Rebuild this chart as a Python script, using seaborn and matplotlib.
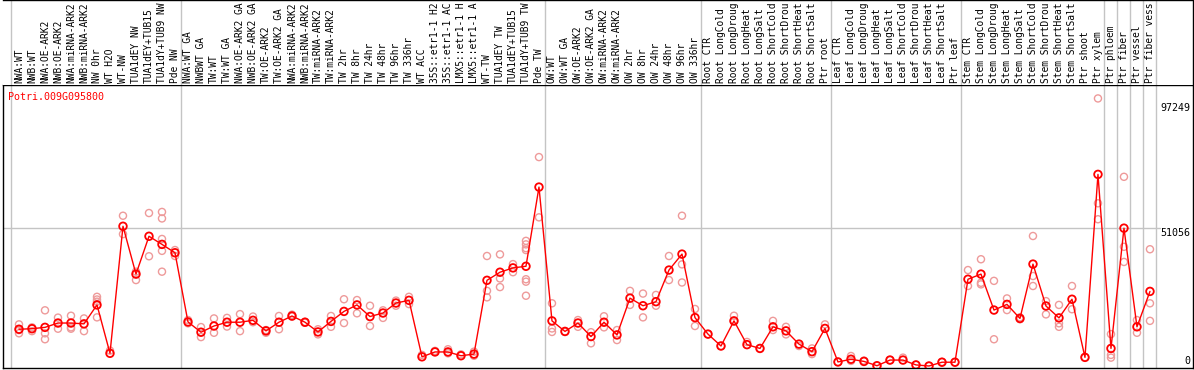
import numpy as np
import pandas as pd
import matplotlib
matplotlib.use("Agg")
import matplotlib.pyplot as plt
import matplotlib.transforms as mtrans
import seaborn as sns

title = "Potri.009G095800"

# labels as displayed (the source truncates them to 14 characters)
categories = [
    "NWA:WT", "NWB:WT", "NWA:OE-ARK2", "NWB:OE-ARK2", "NWA:miRNA-ARK2", "NWB:miRNA-ARK2",
    "NW 0hr", "WT H2O", "WT-NW", "TUA1dEY NW", "TUA1dEY+TUB15", "TUA1dY+TUB9 NW", "Pde NW",
    "NWA:WT GA", "NWBWT GA", "TW:WT", "TW:WT GA", "NWA:OE-ARK2 GA", "NWB:OE-ARK2 GA",
    "TW:OE-ARK2", "TW:OE-ARK2 GA", "NWA:miRNA-ARK2", "NWB:miRNA-ARK2", "TW:miRNA-ARK2",
    "TW:miRNA-ARK2", "TW 2hr", "TW 8hr", "TW 24hr", "TW 48hr", "TW 96hr", "TW 336hr",
    "WT ACC", "35S::etr1-1 H2", "35S::etr1-1 AC", "LMX5::etr1-1 H", "LMX5::etr1-1 A",
    "WT-TW", "TUA1dEY TW", "TUA1dEY+TUB15", "TUA1dY+TUB9 TW", "Pde TW",
    "OW:WT", "OW:WT GA", "OW:OE-ARK2", "OW:OE-ARK2 GA", "OW:miRNA-ARK2", "OW:miRNA-ARK2",
    "OW 2hr", "OW 8hr", "OW 24hr", "OW 48hr", "OW 96hr", "OW 336hr",
    "Root CTR", "Root LongCold", "Root LongDroug", "Root LongHeat", "Root LongSalt",
    "Root ShortCold", "Root ShortDrou", "Root ShortHeat", "Root ShortSalt", "Ptr root",
    "Leaf CTR", "Leaf LongCold", "Leaf LongDroug", "Leaf LongHeat", "Leaf LongSalt",
    "Leaf ShortCold", "Leaf ShortDrou", "Leaf ShortHeat", "Leaf ShortSalt", "Ptr leaf",
    "Stem CTR", "Stem LongCold", "Stem LongDroug", "Stem LongHeat", "Stem LongSalt",
    "Stem ShortCold", "Stem ShortDrou", "Stem ShortHeat", "Stem ShortSalt", "Ptr shoot",
    "Ptr xylem", "Ptr phloem", "Ptr fiber", "Ptr vessel", "Ptr fiber vess",
]

means = [
    13600, 13800, 14300, 15900, 15900, 15600, 22600, 4700, 51700, 34000, 48000, 45000, 41900,
    16300, 12500, 14800, 16200, 16200, 16900, 13000, 16200, 18500, 16200, 12600, 16500,
    20200, 22600, 18300, 19600, 23300, 24300,
    3400, 5200, 5200, 3800, 4400, 31700, 34700, 36300, 36900, 66200,
    16700, 12800, 15900, 10900, 16200, 11500, 25100, 22300, 23800, 35500, 41400, 17900,
    11800, 7400, 16700, 7900, 6500, 14500, 13000, 8100, 5300, 13900,
    1500, 2500, 1700, 100, 2200, 2200, 400, 0, 1400, 1400,
    32100, 34000, 20700, 22800, 17600, 37700, 22200, 17800, 24700, 3200,
    70900, 6500, 51000, 14500, 27600,
]

replicates = [
    [15400, 12100, 13300], [14300, 12900], [20600, 12100, 9900], [17900, 13800],
    [18600, 14300, 13800], [17600, 12900], [25600, 24600, 23800, 18000], [5700],
    [55600, 48800], [31800, 34900], [56600, 40600], [57000, 54600, 47000, 42600, 34900],
    [42900, 40700],
    [17000, 15800], [14400, 10700], [17600, 12300], [17800, 14600], [19200, 12900],
    [18300, 16200], [13300, 12300], [18500, 13600], [19000, 18300], [16300, 16000],
    [13600, 11700], [18500, 14500], [24700, 15900], [24400, 19500], [22300, 14800],
    [20600, 17800], [24200, 22300], [25600, 22900],
    [4100], [5600], [6200, 4700], [4300], [5300, 3800],
    [40700, 27800, 25400], [41300, 32400, 29200], [37700, 34700],
    [46300, 45000, 43600, 42900, 32100, 31200, 26000], [77300, 55000],
    [23200, 13900, 12600], [12600], [17000, 14500], [12500, 8400], [18400, 14300],
    [13300, 9600], [27800, 22600], [26800, 18000], [26300, 22300], [40700, 31800],
    [55600, 37600, 30900], [21100, 14800],
    [11800], [7400], [18600, 16400], [8900], [6500], [16700, 13300], [14500, 11700],
    [7400], [6500, 4400], [15400],
    [1500], [3700, 1900], [2000], [100], [2200], [3100], [400], [0], [1500], [1400],
    [35500, 29600], [39500, 30800, 30200], [31500, 9900], [25000, 20700], [18000, 17300],
    [48100, 33300, 29600], [24000, 19100], [22600, 15800, 14500], [29600, 21000], [3200],
    [99000, 60200, 54300], [11800, 4100, 3100], [70000, 44100, 38500], [17000, 12300],
    [43200, 23200, 16700],
]

y_labels = [97249, 51056, 0]
grid_value = 51056
group_edges = [-0.65, 12.5, 40.5, 52.5, 62.5, 72.5, 83.5, 84.5, 85.5, 86.5, 87.5]

sns.set_theme(style="white")
plt.rcParams["font.family"] = ["DejaVu Sans Mono", "DejaVu Sans"]

W, H = 1194, 370
fig = plt.figure(figsize=(W / 100, H / 100), dpi=100)
ax = fig.add_axes([3 / W, 2 / H, 1190 / W, 283 / H])
lab = fig.add_axes([3 / W, 285 / H, 1190 / W, 85 / H], sharex=ax)

df_mean = pd.DataFrame({"pos": np.arange(len(means)), "value": means})
rows = [(i, v) for i, reps in enumerate(replicates) for v in reps]
df_rep = pd.DataFrame(rows, columns=["pos", "value"])

rep_color = "#EE9A9A"
main_color = "#FF0000"

sns.scatterplot(data=df_rep, x="pos", y="value", ax=ax, marker="o", s=26,
                facecolors="none", edgecolor=rep_color, linewidth=1.0, zorder=2,
                legend=False)
sns.lineplot(data=df_mean, x="pos", y="value", ax=ax, color=main_color, lw=1.0,
             zorder=3, legend=False)
sns.scatterplot(data=df_mean, x="pos", y="value", ax=ax, marker="o", s=30,
                facecolors="none", edgecolor=main_color, linewidth=1.3, zorder=4,
                legend=False)

ax.set_xlim(-1.23, 90.31)
ax.set_ylim(-740, 103970)

grid_color = "#C4C4C4"
for e in group_edges:
    ax.axvline(e, color=grid_color, lw=1.0, zorder=0)
    lab.axvline(e, color=grid_color, lw=1.0, zorder=0)
ax.axhline(grid_value, xmin=0, xmax=0.972, color=grid_color, lw=1.0, zorder=0)

for a in (ax, lab):
    a.set_xlabel("")
    a.set_ylabel("")
    a.set_xticks([])
    a.set_yticks([])
    a.grid(False)
    for s in a.spines.values():
        s.set_color("black")
        s.set_linewidth(1.0)
lab.set_ylim(0, 1)
lab.spines["bottom"].set_visible(False)
lab.spines["left"].set_visible(False)

for i, c in enumerate(categories):
    lab.text(i, 0.02, c, rotation=90, ha="center", va="bottom", fontsize=6.9,
             color="black")

trans = mtrans.blended_transform_factory(ax.transAxes, ax.transData)
for v in y_labels:
    ax.text(0.9975, v, str(v), transform=trans, ha="right",
            va="bottom" if v == 0 else "top", fontsize=7.2, color="black")

ax.text(0.004, 0.975, title, transform=ax.transAxes, ha="left", va="top",
        fontsize=7.2, color=main_color)

fig.savefig("out.png", dpi=100)
